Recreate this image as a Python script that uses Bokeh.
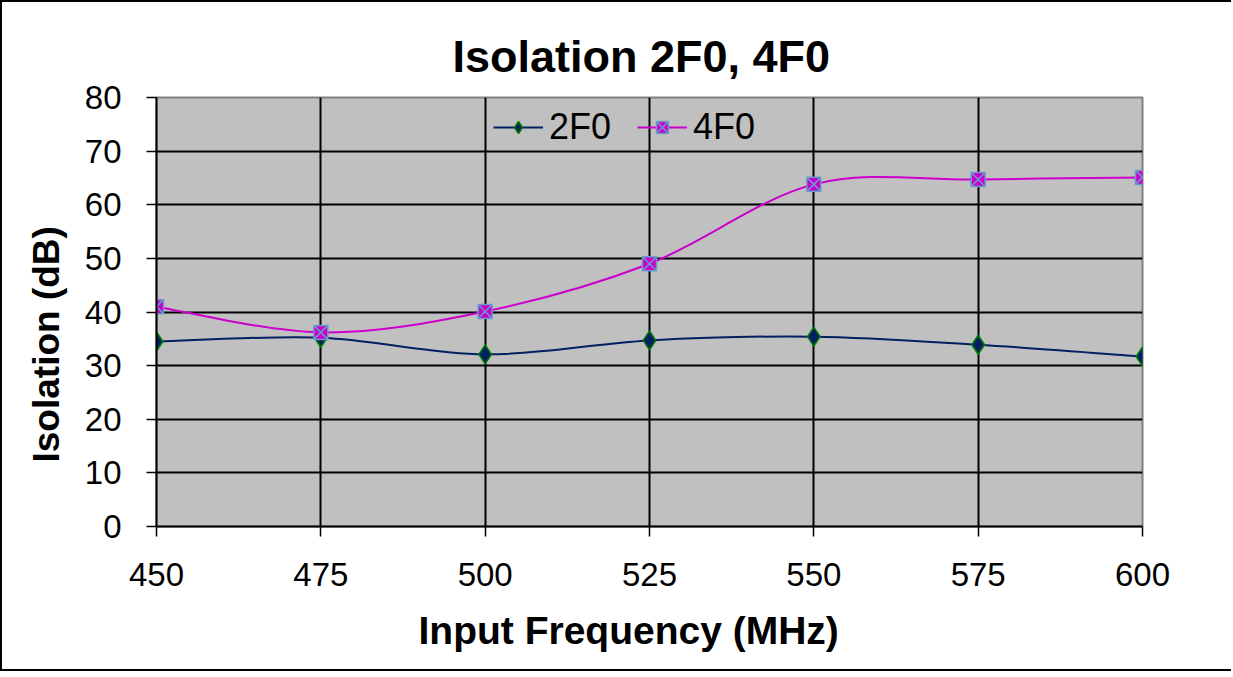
from bokeh.plotting import figure
from bokeh.models import Legend, LegendItem, Range1d, FixedTicker, ColumnDataSource, Title
from bokeh.embed import file_html
from bokeh.resources import INLINE

freq = [450, 475, 500, 525, 550, 575, 600]
iso_2f0 = [34.5, 35.2, 32.1, 34.7, 35.4, 33.9, 31.7]
iso_4f0 = [41.0, 36.2, 40.1, 49.0, 63.8, 64.7, 65.1]
x_ticks = [450, 475, 500, 525, 550, 575, 600]
y_ticks = [0, 10, 20, 30, 40, 50, 60, 70, 80]

FONT = "Liberation Sans"


def smooth_segments(xs, ys):
    # Excel-style smoothed line as cubic Bezier segments through the data points
    n = len(xs)
    seg = dict(x0=[], y0=[], x1=[], y1=[], cx0=[], cy0=[], cx1=[], cy1=[])
    for i in range(n - 1):
        xm, ym = (xs[i - 1], ys[i - 1]) if i > 0 else (xs[i], ys[i])
        xp, yp = (xs[i + 2], ys[i + 2]) if i + 2 < n else (xs[i + 1], ys[i + 1])
        seg["x0"].append(xs[i]); seg["y0"].append(ys[i])
        seg["x1"].append(xs[i + 1]); seg["y1"].append(ys[i + 1])
        seg["cx0"].append(xs[i] + (xs[i + 1] - xm) / 6)
        seg["cy0"].append(ys[i] + (ys[i + 1] - ym) / 6)
        seg["cx1"].append(xs[i + 1] - (xp - xs[i]) / 6)
        seg["cy1"].append(ys[i + 1] - (yp - ys[i]) / 6)
    return ColumnDataSource(seg)


p = figure(width=1231, height=671, output_backend="svg", toolbar_location=None,
           x_range=Range1d(450, 600), y_range=Range1d(0, 80),
           min_border_left=154, min_border_right=91, min_border_top=95, min_border_bottom=147)
p.styles = {"border-style": "solid none solid solid", "border-width": "2px 0px 2px 2px",
            "border-color": "black"}

p.border_fill_color = "white"
p.background_fill_color = "#C0C0C0"
p.outline_line_color = "#808080"
p.outline_line_width = 2

p.title.text = "Isolation 2F0, 4F0"
p.title.align = "left"
p.title.offset = 296
p.title.text_font = FONT
p.title.text_font_size = "45px"
p.title.text_font_style = "bold"
p.title.text_color = "black"
p.title.standoff = 32

for ax in (p.xaxis[0], p.yaxis[0]):
    ax.axis_line_color = "black"
    ax.axis_line_width = 2
    ax.major_tick_line_color = "black"
    ax.major_tick_line_width = 1.5
    ax.major_tick_in = 0
    ax.major_tick_out = 10
    ax.minor_tick_line_color = None
    ax.major_label_text_font = FONT
    ax.major_label_text_font_size = "33px"
    ax.major_label_text_color = "black"

p.xaxis.ticker = FixedTicker(ticks=x_ticks)
p.yaxis.ticker = FixedTicker(ticks=y_ticks)
p.xaxis.major_label_standoff = 26
p.yaxis.major_label_standoff = 25

# axis titles, placed as Excel places them
xlab = Title(text="Input Frequency (MHz)", align="left", offset=262, standoff=36,
             text_font=FONT, text_font_size="39px", text_font_style="bold", text_color="black")
ylab = Title(text="Isolation (dB)", align="left", offset=64, standoff=30,
             text_font=FONT, text_font_size="37px", text_font_style="bold", text_color="black")
p.add_layout(xlab, "below")
p.add_layout(ylab, "left")

p.xgrid.ticker = FixedTicker(ticks=x_ticks)
p.ygrid.ticker = FixedTicker(ticks=y_ticks)
for g in (p.xgrid[0], p.ygrid[0]):
    g.grid_line_color = "black"
    g.grid_line_width = 2

s2 = smooth_segments(freq, iso_2f0)
s4 = smooth_segments(freq, iso_4f0)

l2 = p.bezier(x0="x0", y0="y0", x1="x1", y1="y1", cx0="cx0", cy0="cy0", cx1="cx1", cy1="cy1",
              source=s2, line_color="#002060", line_width=2)
l4 = p.bezier(x0="x0", y0="y0", x1="x1", y1="y1", cx0="cx0", cy0="cy0", cx1="cx1", cy1="cy1",
              source=s4, line_color="#CC00CC", line_width=2)
m2 = p.scatter(freq, iso_2f0, marker="diamond", size=19, fill_color="#002060",
               line_color="#008000", line_width=1.5)
m4 = p.scatter(freq, iso_4f0, marker="square_x", size=14, fill_color="#CC00CC",
               line_color="#6699CC", line_width=1.5)

legend = Legend(items=[LegendItem(label="2F0", renderers=[l2, m2]),
                       LegendItem(label="4F0", renderers=[l4, m4])],
                orientation="horizontal", location=(337, 378),
                background_fill_alpha=0, border_line_color=None,
                label_text_font=FONT, label_text_font_size="36px", label_text_color="black",
                glyph_width=50, glyph_height=30, label_standoff=6, spacing=26,
                padding=0, margin=0)
p.add_layout(legend, "center")

open("out.html", "w").write(file_html(p, INLINE))
